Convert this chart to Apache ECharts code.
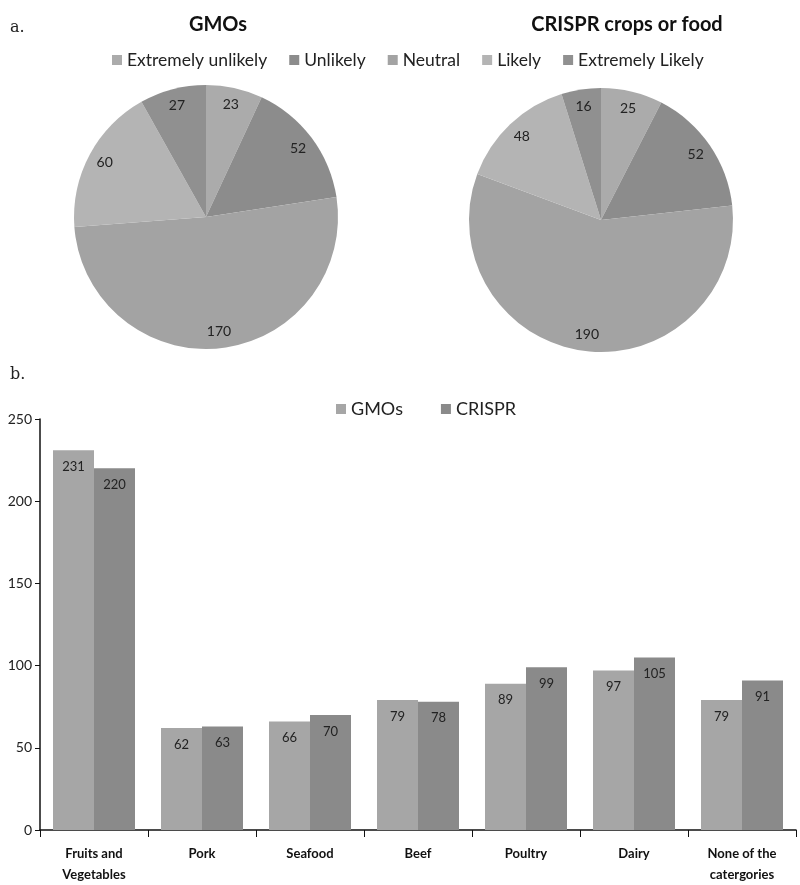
<!DOCTYPE html>
<html>
<head>
<meta charset="utf-8">
<script src="https://cdn.jsdelivr.net/npm/echarts@6/dist/echarts.min.js"></script>
<style>html,body{margin:0;padding:0;background:#fff}#c{width:800px;height:885px}</style>
</head>
<body>
<div id="c"></div>
<script>
const pieCategories = ['Extremely unlikely', 'Unlikely', 'Neutral', 'Likely', 'Extremely Likely'];
const gmoPieValues = [23, 52, 170, 60, 27];
const crisprPieValues = [25, 52, 190, 48, 16];
const pieColors = ['#ababab', '#8c8c8c', '#a3a3a3', '#b4b4b4', '#909090'];

const barCategories = ['Fruits and\nVegetables', 'Pork', 'Seafood', 'Beef', 'Poultry', 'Dairy', 'None of the\ncatergories'];
const gmoBarValues = [231, 62, 66, 79, 89, 97, 79];
const crisprBarValues = [220, 63, 70, 78, 99, 105, 91];
const yTicks = [0, 50, 100, 150, 200, 250];

const FONT = 'Lato';
const chart = echarts.init(document.getElementById('c'));

function pieData(vals) {
  return pieCategories.map((n, i) => ({ name: n, value: vals[i], itemStyle: { color: pieColors[i] } }));
}
function pieSeries(vals, cx, cy) {
  return [
    {
      type: 'pie', center: [cx, cy], radius: 132, startAngle: 90, clockwise: true,
      label: { show: false }, labelLine: { show: false }, silent: true,
      data: pieData(vals)
    },
    {
      type: 'pie', center: [cx, cy], radius: [92, 132], startAngle: 90, clockwise: true,
      silent: true, legendHoverLink: false,
      itemStyle: { color: 'rgba(0,0,0,0)' },
      label: { show: true, position: 'inside', formatter: '{c}', fontFamily: FONT, fontSize: 14, color: '#222' },
      labelLine: { show: false },
      data: pieCategories.map((n, i) => ({ name: n + ' ', value: vals[i] }))
    }
  ];
}

chart.setOption({
  animation: false,
  textStyle: { fontFamily: FONT },
  graphic: [
    { type: 'text', left: 10, top: 20, style: { text: 'a.', font: '16px "DejaVu Serif", serif', fill: '#222' } },
    { type: 'text', left: 10, top: 367, style: { text: 'b.', font: '16px "DejaVu Serif", serif', fill: '#222' } }
  ],
  title: [
    { text: 'GMOs', left: 213, top: 10, textAlign: 'center', textStyle: { fontFamily: FONT, fontWeight: 'bold', fontSize: 20, color: '#111' } },
    { text: 'CRISPR crops or food', left: 622, top: 10, textAlign: 'center', textStyle: { fontFamily: FONT, fontWeight: 'bold', fontSize: 20, color: '#111' } }
  ],
  legend: [
    {
      top: 46, left: 107, icon: 'rect', itemWidth: 10, itemHeight: 10, itemGap: 22,
      textStyle: { fontFamily: FONT, fontSize: 17.5, color: '#222' },
      data: pieCategories.map((n, i) => ({ name: n, itemStyle: { color: pieColors[i] } })),
      selectedMode: false
    },
    {
      top: 395, left: 331, icon: 'rect', itemWidth: 10, itemHeight: 10, itemGap: 38,
      textStyle: { fontFamily: FONT, fontSize: 18, color: '#222' },
      data: [{ name: 'GMOs', itemStyle: { color: '#a6a6a6' } }, { name: 'CRISPR', itemStyle: { color: '#8a8a8a' } }],
      selectedMode: false
    }
  ],
  grid: { left: 40, right: 4, top: 419, bottom: 51, containLabel: false },
  xAxis: {
    type: 'category', data: barCategories,
    axisLine: { lineStyle: { color: '#111', width: 1.5 } },
    axisTick: { show: true, length: 7, lineStyle: { color: '#111' } },
    axisLabel: { fontFamily: FONT, fontWeight: 'bold', fontSize: 13, color: '#111', lineHeight: 21, margin: 13, interval: 0 }
  },
  yAxis: {
    type: 'value', min: yTicks[0], max: yTicks[yTicks.length - 1], interval: 50,
    splitLine: { show: false },
    axisLine: { show: true, lineStyle: { color: '#111', width: 1.5 } },
    axisTick: { show: true, length: 5, lineStyle: { color: '#111' } },
    axisLabel: { fontFamily: FONT, fontSize: 14, color: '#222', margin: 8 }
  },
  series: [
    ...pieSeries(gmoPieValues, 206, 217),
    ...pieSeries(crisprPieValues, 601, 220),
    {
      name: 'GMOs', type: 'bar', data: gmoBarValues, barWidth: 41, barGap: '0%',
      itemStyle: { color: '#a6a6a6' },
      label: { show: true, position: 'insideTop', distance: 10, fontFamily: FONT, fontSize: 13, color: '#222' }
    },
    {
      name: 'CRISPR', type: 'bar', data: crisprBarValues, barWidth: 41, barGap: '0%',
      itemStyle: { color: '#8a8a8a' },
      label: { show: true, position: 'insideTop', distance: 10, fontFamily: FONT, fontSize: 13, color: '#222' }
    }
  ]
});
</script>
</body>
</html>
